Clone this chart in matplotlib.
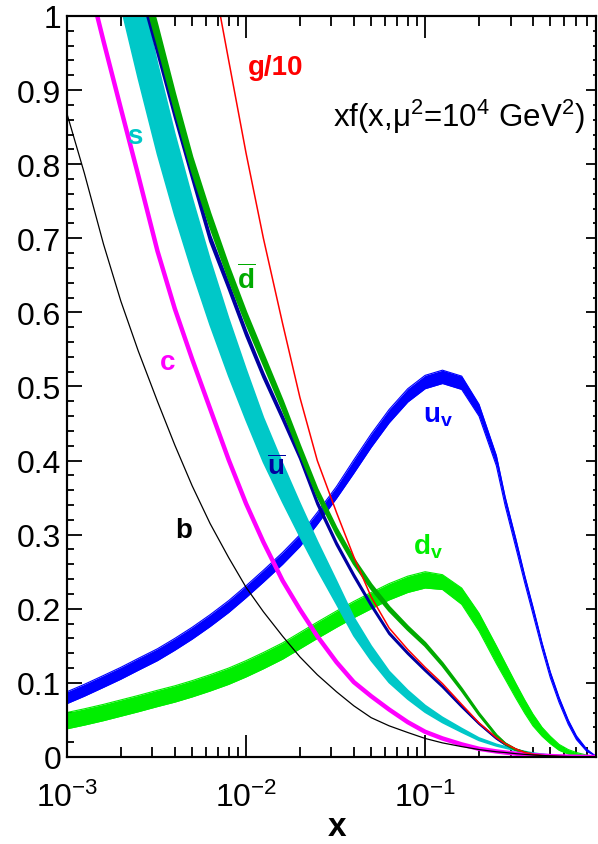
import numpy as np
import matplotlib
matplotlib.use("Agg")
import matplotlib.pyplot as plt
from matplotlib.ticker import LogLocator, MultipleLocator, NullFormatter, FixedFormatter, FixedLocator

plt.rcParams['font.family'] = ['Liberation Sans', 'DejaVu Sans']
plt.rcParams['mathtext.fontset'] = 'custom'
plt.rcParams['mathtext.rm'] = 'Liberation Sans'
plt.rcParams['mathtext.it'] = 'Liberation Sans:italic'
plt.rcParams['mathtext.bf'] = 'Liberation Sans:bold'

x = np.array([0.001, 0.00125, 0.0016, 0.002, 0.0025, 0.0032, 0.004, 0.005, 0.0063, 0.008,
              0.01, 0.0125, 0.016, 0.02, 0.025, 0.032, 0.04, 0.05, 0.063, 0.08,
              0.1, 0.125, 0.16, 0.2, 0.25, 0.28, 0.32, 0.36, 0.4, 0.45,
              0.5, 0.56, 0.63, 0.7, 0.8, 0.9])

# xf(x) at mu^2 = 1e4 GeV^2 (values above 1 are off the plot)
g10 = [3.2, 2.8, 2.4, 2.05, 1.75, 1.5, 1.33, 1.2, 1.075, 0.94,
       0.815, 0.70, 0.585, 0.485, 0.400, 0.330, 0.270, 0.216, 0.174, 0.145,
       0.121, 0.099, 0.071, 0.046, 0.026, 0.018, 0.011, 0.006, 0.0035, 0.002,
       0.001, 0.0005, 0.0002, 0.0, 0.0, 0.0]
bq = [0.868, 0.788, 0.692, 0.615, 0.548, 0.480, 0.421, 0.366, 0.315, 0.269,
      0.229, 0.196, 0.163, 0.135, 0.111, 0.088, 0.069, 0.053, 0.042, 0.033,
      0.025, 0.019, 0.014, 0.010, 0.007, 0.006, 0.0045, 0.0035, 0.0027, 0.002,
      0.0015, 0.001, 0.0006, 0.0003, 0.0001, 0.0]
cq = [1.16, 1.07, 0.966, 0.875, 0.785, 0.683, 0.605, 0.537, 0.470, 0.401,
      0.342, 0.290, 0.238, 0.199, 0.163, 0.128, 0.101, 0.082, 0.064, 0.047,
      0.034, 0.025, 0.017, 0.011, 0.0075, 0.006, 0.0045, 0.0033, 0.0025, 0.0018,
      0.0012, 0.0008, 0.0005, 0.0003, 0.0001, 0.0]
sq = [1.45, 1.34, 1.20, 1.09, 0.985, 0.875, 0.786, 0.705, 0.627, 0.553,
      0.489, 0.428, 0.370, 0.320, 0.272, 0.222, 0.176, 0.140, 0.108, 0.084,
      0.065, 0.050, 0.036, 0.024, 0.016, 0.013, 0.0095, 0.007, 0.005, 0.0035,
      0.0025, 0.0016, 0.001, 0.0005, 0.0002, 0.0]
ubar = [1.6, 1.45, 1.3, 1.17, 1.05, 0.955, 0.868, 0.785, 0.70, 0.635,
        0.572, 0.515, 0.458, 0.405, 0.343, 0.288, 0.245, 0.205, 0.167, 0.140,
        0.117, 0.095, 0.068, 0.045, 0.025, 0.017, 0.010, 0.006, 0.0035, 0.002,
        0.001, 0.0005, 0.0002, 0.0, 0.0, 0.0]
dbar = [1.6, 1.46, 1.32, 1.18, 1.07, 0.975, 0.885, 0.80, 0.725, 0.654,
        0.593, 0.537, 0.475, 0.415, 0.357, 0.305, 0.264, 0.230, 0.200, 0.174,
        0.152, 0.125, 0.091, 0.058, 0.029, 0.018, 0.010, 0.006, 0.0035, 0.002,
        0.001, 0.0005, 0.0002, 0.0, 0.0, 0.0]
uv = [0.080, 0.090, 0.102, 0.113, 0.125, 0.138, 0.152, 0.167, 0.184, 0.203,
      0.223, 0.244, 0.268, 0.292, 0.322, 0.357, 0.392, 0.427, 0.460, 0.488,
      0.506, 0.513, 0.505, 0.468, 0.400, 0.345, 0.290, 0.240, 0.198, 0.150,
      0.111, 0.077, 0.047, 0.026, 0.009, 0.001]
uv_err = [0.008, 0.008, 0.008, 0.008, 0.008, 0.008, 0.008, 0.008, 0.008, 0.008,
          0.008, 0.008, 0.008, 0.008, 0.008, 0.008, 0.009, 0.009, 0.009, 0.009,
          0.009, 0.009, 0.009, 0.008, 0.007, 0.006, 0.006, 0.005, 0.005, 0.004,
          0.004, 0.0035, 0.003, 0.0025, 0.0015, 0.0]
dv = [0.049, 0.054, 0.060, 0.066, 0.072, 0.079, 0.085, 0.092, 0.100, 0.109,
      0.119, 0.130, 0.143, 0.157, 0.171, 0.186, 0.199, 0.211, 0.223, 0.233,
      0.239, 0.236, 0.217, 0.182, 0.138, 0.116, 0.090, 0.068, 0.050, 0.034,
      0.023, 0.013, 0.007, 0.004, 0.0015, 0.0]
dv_err = [0.011, 0.011, 0.011, 0.011, 0.011, 0.011, 0.011, 0.011, 0.011, 0.011,
          0.011, 0.011, 0.011, 0.011, 0.011, 0.011, 0.011, 0.011, 0.011, 0.011,
          0.011, 0.010, 0.011, 0.012, 0.012, 0.011, 0.010, 0.009, 0.008, 0.006,
          0.005, 0.004, 0.003, 0.002, 0.001, 0.0]
s_rel = 0.07
ubar_rel = 0.006
dbar_rel = 0.012

ytick_vals = [0, 0.1, 0.2, 0.3, 0.4, 0.5, 0.6, 0.7, 0.8, 0.9, 1]
ytick_labels = ["0", "0.1", "0.2", "0.3", "0.4", "0.5", "0.6", "0.7", "0.8", "0.9", "1"]


def band(ax, y, err, color, lw, z):
    y = np.asarray(y)
    err = np.asarray(err)
    lo, hi = y - err, y + err
    ax.fill_between(x, lo, hi, color=color, lw=0, zorder=z)
    ax.plot(x, lo, color=color, lw=lw, zorder=z)
    ax.plot(x, hi, color=color, lw=lw, zorder=z)


fig = plt.figure(figsize=(5.98, 8.45), dpi=100)
ax = fig.add_axes([0.112, 0.103, 0.8846, 0.8769])

band(ax, uv, uv_err, '#0000ff', 0.8, 2)
band(ax, dv, dv_err, '#00ee00', 0.8, 2)
band(ax, sq, np.asarray(sq) * s_rel, '#00c8c8', 1.2, 3)
band(ax, ubar, np.asarray(ubar) * ubar_rel, '#0000a0', 1.5, 3)
band(ax, dbar, np.asarray(dbar) * dbar_rel, '#00aa00', 1.8, 3)
ax.plot(x, cq, color='#ff00ff', lw=3.2, zorder=3)
ax.plot(x, g10, color='#ff0000', lw=1.1, zorder=4)
ax.plot(x, bq, color='black', lw=0.9, zorder=4)

ax.set_xscale('log')
ax.set_xlim(1e-3, 0.9)
ax.set_ylim(0, 1)

ax.xaxis.set_major_locator(LogLocator(base=10, numticks=10))
ax.xaxis.set_minor_locator(LogLocator(base=10, subs=np.arange(2, 10), numticks=20))
ax.xaxis.set_minor_formatter(NullFormatter())
ax.yaxis.set_major_locator(FixedLocator(ytick_vals))
ax.yaxis.set_major_formatter(FixedFormatter(ytick_labels))
ax.yaxis.set_minor_locator(MultipleLocator(0.02))

ax.tick_params(axis='x', which='major', direction='in', length=16, width=1.3,
               top=True, labelsize=23, pad=18)
ax.tick_params(axis='x', which='minor', direction='in', length=7.5, width=1.3, top=True)
ax.tick_params(axis='y', which='major', direction='in', length=11, width=1.3,
               right=False, labelsize=23, pad=4)
ax.tick_params(axis='y', which='minor', direction='in', length=5, width=1.3, right=False)

# right axis has its own short ticks
ax2 = ax.twinx()
ax2.set_ylim(0, 1)
ax2.yaxis.set_major_locator(FixedLocator(ytick_vals))
ax2.yaxis.set_minor_locator(MultipleLocator(0.02))
ax2.tick_params(axis='y', which='major', direction='in', length=7, width=1.3, labelright=False)
ax2.tick_params(axis='y', which='minor', direction='in', length=2, width=1.3)

for a in (ax, ax2):
    for sp in a.spines.values():
        sp.set_linewidth(1.5)

# axis title, placed by hand so it stays inside the figure
fig.text(0.5635, 0.0105, 'x', fontsize=24, fontweight='bold', ha='center', va='baseline')

# curve labels
lab = dict(fontsize=20, fontweight='bold', ha='center', va='center', zorder=6)
ax.text(0.0146, 0.931, 'g/10', color='#ff0000', **lab)
ax.text(0.0024, 0.838, 's', color='#00c8c8', **lab)
ax.text(0.00366, 0.533, 'c', color='#ff00ff', **lab)
ax.text(0.0045, 0.306, 'b', color='black', **lab)
ax.text(0.0101, 0.645, r'$\overline{\mathbf{d}}$', color='#00aa00', **lab)
ax.text(0.0147, 0.391, r'$\overline{\mathbf{u}}$', color='#0000a0', **lab)
ax.text(0.118, 0.462, r'$\mathbf{u}_\mathbf{v}$', color='#0000ff', **lab)
ax.text(0.104, 0.285, r'$\mathbf{d}_\mathbf{v}$', color='#00ee00', **lab)

ax.text(0.503, 0.865, r'xf(x,μ$^2$=10$^4$ GeV$^2$)', transform=ax.transAxes,
        fontsize=22.5, ha='left', va='center', zorder=6)

fig.savefig('out.png', dpi=100)
